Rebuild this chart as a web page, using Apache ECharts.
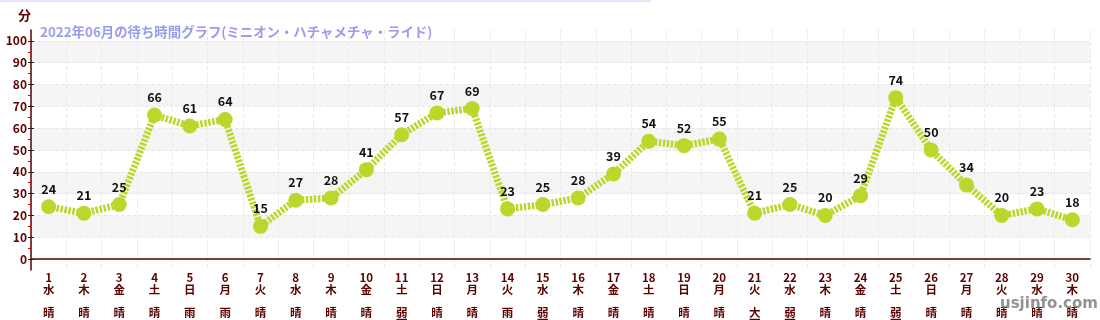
<!DOCTYPE html>
<html><head><meta charset="utf-8">
<script src="https://cdn.jsdelivr.net/npm/echarts@6/dist/echarts.min.js"></script>
<style>html,body{margin:0;padding:0;background:#fff}#c{width:1100px;height:320px}</style>
</head><body><div id="c"></div>
<script>
const days = ['1','2','3','4','5','6','7','8','9','10','11','12','13','14','15','16','17','18','19','20','21','22','23','24','25','26','27','28','29','30'];
const weekdays = ['水','木','金','土','日','月','火','水','木','金','土','日','月','火','水','木','金','土','日','月','火','水','木','金','土','日','月','火','水','木'];
const weather = ['晴','晴','晴','晴','雨','雨','晴','晴','晴','晴','弱雨','晴','晴','雨','弱雨','晴','晴','晴','晴','晴','大雨','弱雨','晴','晴','弱雨','晴','晴','晴','晴','晴'];
const waits = [24,21,25,66,61,64,15,27,28,41,57,67,69,23,25,28,39,54,52,55,21,25,20,29,74,50,34,20,23,18];
const yMajor = [0,10,20,30,40,50,60,70,80,90,100];
const yMinor = [5,15,25,35,45,55,65,75,85,95];

const font = '"Noto Sans CJK JP", "Noto Sans", sans-serif';
const dark = '#5c0000';
const chart = echarts.init(document.getElementById('c'));
const baseY = {type:'value', min:-5, max:105, position:'left'};
chart.setOption({
  animation:false,
  textStyle:{fontFamily:font},
  title:{text:'2022年06月の待ち時間グラフ(ミニオン・ハチャメチャ・ライド)', left:35, top:20,
    textStyle:{fontSize:13.4, fontWeight:'bold', color:'#9b9bef', fontFamily:font}},
  grid:{left:31, right:10, top:30, bottom:50, outerBoundsMode:'none', containLabel:false},
  graphic:[
    {type:'rect', shape:{x:0,y:0,width:651,height:2}, style:{fill:'#e6e6fa'}, z:100},
    {type:'text', left:1000, top:297, style:{text:'usjinfo.com', font:'bold 15px "DejaVu Sans", sans-serif', fill:'rgba(110,110,110,0.75)'}, z:100}
  ],
  xAxis:{type:'category', data:days, boundaryGap:true,
    name:'日', nameLocation:'middle', nameGap:30,
    nameTextStyle:{fontSize:14, fontWeight:'bold', color:dark, fontFamily:font},
    axisLine:{lineStyle:{color:dark, width:1.5}},
    axisTick:{alignWithLabel:true, length:4, lineStyle:{color:'#555'}},
    splitLine:{show:true, lineStyle:{color:'#eaeaea', type:'dashed'}},
    axisLabel:{interval:0, margin:2, lineHeight:11.5, fontSize:11.5, fontWeight:'bold', color:dark, fontFamily:font,
      formatter:(v,i)=> v+'\n'+weekdays[i]+'\n\n'+weather[i].split('').join('\n')}
  },
  yAxis:[
    Object.assign({}, baseY, {
      name:'分', nameLocation:'end', nameGap:8,
      nameTextStyle:{fontSize:13, fontWeight:'bold', color:dark, fontFamily:font, align:'right'},
      axisLine:{show:true, lineStyle:{color:dark, width:1.5}},
      axisTick:{show:true, length:3, customValues:yMajor, lineStyle:{color:'#222'}},
      axisLabel:{customValues:yMajor, fontSize:12, fontWeight:'bold', color:dark, margin:4, fontFamily:font},
      splitLine:{show:true, lineStyle:{color:'#e8e8e8', type:'dashed'}},
      splitArea:{show:true, areaStyle:{color:['#ffffff','#f5f5f5']}}
    }),
    Object.assign({}, baseY, {
      axisLine:{show:false},
      axisTick:{show:true, inside:true, length:3, customValues:yMajor, lineStyle:{color:'#222'}},
      axisLabel:{show:false}, splitLine:{show:false}
    }),
    Object.assign({}, baseY, {
      axisLine:{show:false},
      axisTick:{show:true, length:3, customValues:yMinor, lineStyle:{color:'#d00000'}},
      axisLabel:{show:false}, splitLine:{show:false}
    })
  ],
  series:[{
    type:'line', data:waits, yAxisIndex:0,
    symbol:'circle', symbolSize:15,
    itemStyle:{color:'#bad82c'},
    lineStyle:{color:'#bad82c', width:7, type:[2.5,1.5]},
    label:{show:true, position:'top', distance:4, fontSize:12.5, fontWeight:'bold', color:'#111', fontFamily:font}
  }]
});
</script></body></html>
